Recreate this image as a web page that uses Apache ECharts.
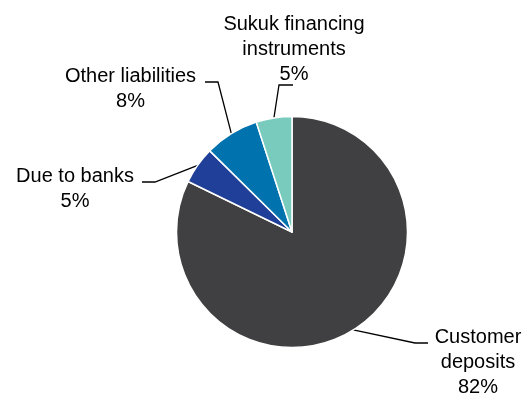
<!DOCTYPE html>
<html>
<head>
<meta charset="utf-8">
<script src="https://cdn.jsdelivr.net/npm/echarts@6/dist/echarts.min.js"></script>
<style>
html,body{margin:0;padding:0;background:#fff;}
#chart{width:527px;height:394px;}
</style>
</head>
<body>
<div id="chart"></div>
<script>
const categories = ['Customer deposits', 'Due to banks', 'Other liabilities', 'Sukuk financing instruments'];
const labelTexts = ['Customer\ndeposits', 'Due to banks', 'Other liabilities', 'Sukuk financing\ninstruments'];
const values = [82.2, 5.2, 7.6, 5.0];
const colors = ['#404042', '#1F3F98', '#0072AE', '#79CBBE'];

// label placement (center of text block) and leader-line bends
const labelPlace = [
  {x: 478, y: 362, elbow: [415, 343], end: [428, 343]},
  {x: 75, y: 189, elbow: [155, 182], end: [142, 182]},
  {x: 130.5, y: 89, elbow: [218, 82], end: [205, 82]},
  {x: 294, y: 49, elbow: [279, 85], end: [293, 85]}
];

const chart = echarts.init(document.getElementById('chart'), null, {renderer: 'canvas'});
chart.setOption({
  animation: false,
  backgroundColor: '#ffffff',
  series: [{
    type: 'pie',
    center: [292, 232],
    radius: 115.5,
    startAngle: 90,
    clockwise: true,
    avoidLabelOverlap: false,
    data: categories.map((c, i) => ({
      name: c, value: values[i],
      itemStyle: {color: colors[i]},
      label: {formatter: labelTexts[i] + '\n' + '{d}%'}
    })),
    itemStyle: {borderColor: '#ffffff', borderWidth: 1.5},
    label: {
      show: true,
      position: 'outside',
      fontFamily: 'Liberation Sans, Arial, sans-serif',
      fontSize: 20,
      lineHeight: 25,
      color: '#000000',
      align: 'center'
    },
    labelLine: {show: true, length: 20, length2: 10, lineStyle: {color: '#000000', width: 1.3}},
    labelLayout: function (params) {
      const p = labelPlace[params.dataIndex];
      const start = params.labelLinePoints ? params.labelLinePoints[0] : p.elbow;
      return {
        x: p.x, y: p.y, align: 'center', verticalAlign: 'middle',
        labelLinePoints: [start, p.elbow, p.end]
      };
    }
  }]
});
// Round percentages in labels
chart.setOption({
  series: [{
    data: categories.map((c, i) => ({
      name: c, value: values[i],
      itemStyle: {color: colors[i]},
      label: {formatter: function (pr) { return labelTexts[i] + '\n' + Math.round(pr.percent) + '%'; }}
    }))
  }]
});
</script>
</body>
</html>
